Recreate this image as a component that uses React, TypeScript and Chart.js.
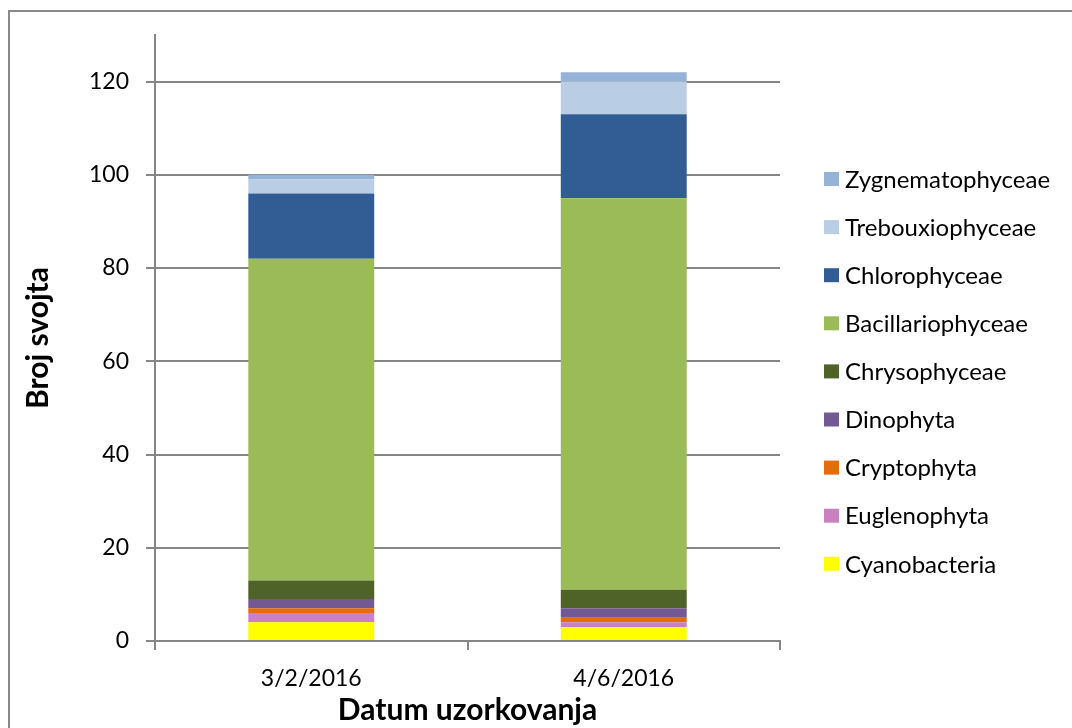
import React, { useEffect, useRef } from "react";
import { Chart, registerables } from "chart.js";

Chart.register(...registerables);

const categories = ["3/2/2016", "4/6/2016"];

const cyanobacteria = [4, 3];
const euglenophyta = [2, 1];
const cryptophyta = [1, 1];
const dinophyta = [2, 2];
const chrysophyceae = [4, 4];
const bacillariophyceae = [69, 84];
const chlorophyceae = [14, 18];
const trebouxiophyceae = [3, 7];
const zygnematophyceae = [1, 2];

const yTicks = [0, 20, 40, 60, 80, 100, 120];

const FONT = "Lato";

const legendPlugin = {
  id: "sideLegend",
  afterDraw(chart: any) {
    const { ctx, chartArea } = chart;
    const items = chart.data.datasets.map((d: any) => ({ label: d.label, color: d.backgroundColor })).reverse();
    const boxX = chartArea.right + 44;
    const startY = chartArea.top + 144;
    const step = 48.1;
    ctx.save();
    ctx.font = `24px ${FONT}`;
    ctx.textBaseline = "middle";
    ctx.textAlign = "left";
    items.forEach((it: any, i: number) => {
      const cy = startY + i * step;
      ctx.fillStyle = it.color;
      ctx.fillRect(boxX, cy - 7, 15, 14);
      ctx.fillStyle = "#000";
      ctx.fillText(it.label, boxX + 21, cy + 1);
    });
    ctx.restore();
  },
};

export default function App() {
  const ref = useRef<HTMLCanvasElement | null>(null);

  useEffect(() => {
    document.body.style.overflow = "hidden";
    const series = [
      { label: "Cyanobacteria", data: cyanobacteria, color: "#FFFF00" },
      { label: "Euglenophyta", data: euglenophyta, color: "#C982C0" },
      { label: "Cryptophyta", data: cryptophyta, color: "#E46C0A" },
      { label: "Dinophyta", data: dinophyta, color: "#725994" },
      { label: "Chrysophyceae", data: chrysophyceae, color: "#4F6228" },
      { label: "Bacillariophyceae", data: bacillariophyceae, color: "#9BBB59" },
      { label: "Chlorophyceae", data: chlorophyceae, color: "#325D94" },
      { label: "Trebouxiophyceae", data: trebouxiophyceae, color: "#B9CDE5" },
      { label: "Zygnematophyceae", data: zygnematophyceae, color: "#95B3D7" },
    ];
    const chart = new Chart(ref.current!, {
      type: "bar",
      data: {
        labels: categories,
        datasets: series.map((s) => ({
          label: s.label,
          data: s.data,
          backgroundColor: s.color,
          borderWidth: 0,
          barPercentage: 0.403,
          categoryPercentage: 1,
        })),
      },
      options: {
        animation: false,
        responsive: false,
        layout: { padding: { left: 8, top: 35, right: 292, bottom: 0 } },
        plugins: {
          tooltip: { enabled: false },
          legend: { display: false },
        },
        scales: {
          x: {
            stacked: true,
            offset: true,
            afterFit: (scale: any) => {
              scale.height = 87;
            },
            grid: {
              offset: true,
              drawOnChartArea: false,
              drawTicks: true,
              tickLength: 9,
              color: "#868686",
              lineWidth: 2,
            },
            border: { display: true, color: "#868686", width: 2 },
            ticks: { color: "#000", font: { family: FONT, size: 23 }, padding: 15 },
            title: {
              display: true,
              text: "Datum uzorkovanja",
              color: "#000",
              font: { family: FONT, size: 30, weight: "bold" },
              padding: { top: 0, bottom: 0 },
            },
          },
          y: {
            stacked: true,
            min: 0,
            max: 130,
            afterBuildTicks: (scale: any) => {
              scale.ticks = yTicks.map((v) => ({ value: v }));
            },
            grid: {
              color: "#868686",
              lineWidth: 2,
              tickLength: 9,
            },
            border: { display: true, color: "#868686", width: 2 },
            ticks: { color: "#000", font: { family: FONT, size: 23 }, padding: 17 },
            title: {
              display: true,
              text: "Broj svojta",
              color: "#000",
              font: { family: FONT, size: 30, weight: "bold" },
              padding: { top: 12, bottom: 16 },
            },
          },
        },
      } as any,
      plugins: [legendPlugin],
    });
    return () => chart.destroy();
  }, []);

  return (
    <div style={{ position: "fixed", left: 0, top: 0, width: 1072, height: 728, overflow: "hidden", background: "#fff" }}>
      <canvas ref={ref} width={1072} height={728} style={{ position: "absolute", left: 0, top: 0 }} />
      <div
        style={{
          position: "absolute",
          left: 8,
          top: 10,
          width: 1200,
          height: 900,
          border: "2px solid #8a8a8a",
          pointerEvents: "none",
        }}
      />
    </div>
  );
}
